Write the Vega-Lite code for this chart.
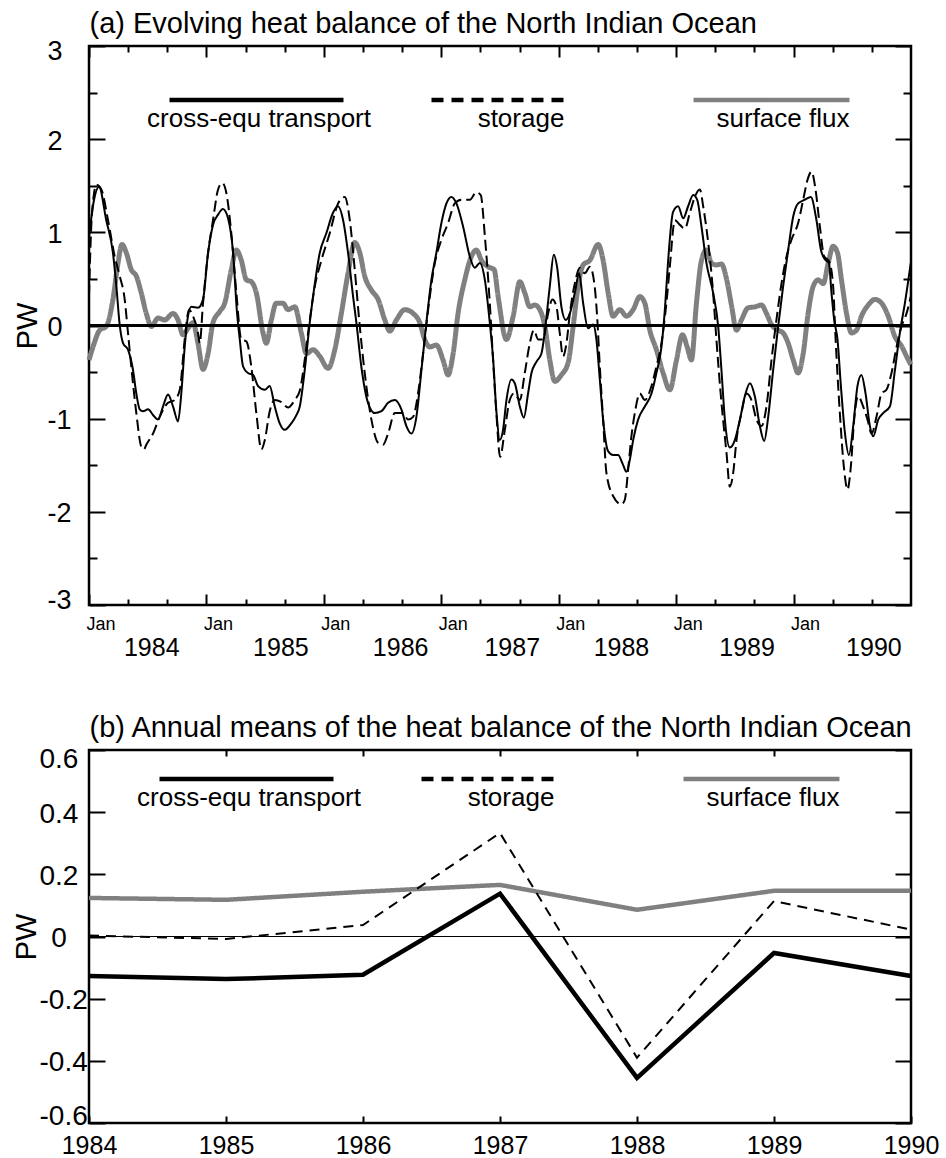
{
  "$schema": "https://vega.github.io/schema/vega-lite/v6.json",
  "padding": {"left": 10, "top": 8, "right": 0, "bottom": 0},
  "config": {
    "font": "Liberation Sans",
    "view": {"stroke": "black", "strokeWidth": 2.5},
    "axis": {"labelColor": "black", "titleColor": "black", "tickColor": "black", "tickWidth": 2, "grid": false, "domain": false, "labelFont": "Liberation Sans", "titleFont": "Liberation Sans", "titleFontWeight": "normal", "titleLimit": 2000},
    "style": {"guide-label": {"lineHeight": 38}}
  },
  "columns": 1,
  "align": "none",
  "spacing": 49,
  "resolve": {"scale": {"color": "independent", "strokeDash": "independent"}},
  "datasets": {
    "a": [
      {"t":1984.000,"k":"T","v":0.95},{"t":1984.043,"k":"T","v":1.35},{"t":1984.085,"k":"T","v":1.49},{"t":1984.147,"k":"T","v":1.13},{"t":1984.204,"k":"T","v":0.78},{"t":1984.233,"k":"T","v":0.42},{"t":1984.262,"k":"T","v":0.0},{"t":1984.290,"k":"T","v":-0.19},{"t":1984.332,"k":"T","v":-0.26},{"t":1984.375,"k":"T","v":-0.48},{"t":1984.403,"k":"T","v":-0.73},{"t":1984.432,"k":"T","v":-0.9},{"t":1984.460,"k":"T","v":-0.92},{"t":1984.503,"k":"T","v":-0.9},{"t":1984.545,"k":"T","v":-0.96},{"t":1984.588,"k":"T","v":-1.01},{"t":1984.630,"k":"T","v":-0.87},{"t":1984.673,"k":"T","v":-0.74},{"t":1984.716,"k":"T","v":-0.87},{"t":1984.758,"k":"T","v":-1.03},{"t":1984.786,"k":"T","v":-0.73},{"t":1984.815,"k":"T","v":-0.23},{"t":1984.843,"k":"T","v":0.1},{"t":1984.871,"k":"T","v":0.2},{"t":1984.928,"k":"T","v":0.19},{"t":1984.971,"k":"T","v":0.28},{"t":1985.014,"k":"T","v":0.78},{"t":1985.056,"k":"T","v":1.08},{"t":1985.099,"k":"T","v":1.19},{"t":1985.141,"k":"T","v":1.25},{"t":1985.184,"k":"T","v":1.15},{"t":1985.227,"k":"T","v":0.78},{"t":1985.261,"k":"T","v":0.13},{"t":1985.284,"k":"T","v":-0.15},{"t":1985.312,"k":"T","v":-0.44},{"t":1985.354,"k":"T","v":-0.51},{"t":1985.397,"k":"T","v":-0.53},{"t":1985.440,"k":"T","v":-0.65},{"t":1985.497,"k":"T","v":-0.69},{"t":1985.539,"k":"T","v":-0.65},{"t":1985.582,"k":"T","v":-0.87},{"t":1985.624,"k":"T","v":-1.05},{"t":1985.667,"k":"T","v":-1.12},{"t":1985.723,"k":"T","v":-1.05},{"t":1985.763,"k":"T","v":-0.97},{"t":1985.795,"k":"T","v":-0.87},{"t":1985.837,"k":"T","v":-0.48},{"t":1985.880,"k":"T","v":0.03},{"t":1985.923,"k":"T","v":0.45},{"t":1985.965,"k":"T","v":0.78},{"t":1986.021,"k":"T","v":0.99},{"t":1986.078,"k":"T","v":1.21},{"t":1986.121,"k":"T","v":1.28},{"t":1986.164,"k":"T","v":1.13},{"t":1986.206,"k":"T","v":0.78},{"t":1986.249,"k":"T","v":0.31},{"t":1986.277,"k":"T","v":0.03},{"t":1986.319,"k":"T","v":-0.44},{"t":1986.376,"k":"T","v":-0.83},{"t":1986.434,"k":"T","v":-0.94},{"t":1986.490,"k":"T","v":-0.92},{"t":1986.547,"k":"T","v":-0.83},{"t":1986.604,"k":"T","v":-0.8},{"t":1986.660,"k":"T","v":-0.9},{"t":1986.703,"k":"T","v":-1.08},{"t":1986.745,"k":"T","v":-1.16},{"t":1986.788,"k":"T","v":-0.98},{"t":1986.831,"k":"T","v":-0.48},{"t":1986.873,"k":"T","v":0.03},{"t":1986.916,"k":"T","v":0.49},{"t":1986.958,"k":"T","v":0.78},{"t":1987.001,"k":"T","v":1.1},{"t":1987.044,"k":"T","v":1.31},{"t":1987.086,"k":"T","v":1.38},{"t":1987.129,"k":"T","v":1.31},{"t":1987.186,"k":"T","v":1.06},{"t":1987.243,"k":"T","v":0.74},{"t":1987.285,"k":"T","v":0.62},{"t":1987.328,"k":"T","v":0.67},{"t":1987.371,"k":"T","v":0.49},{"t":1987.413,"k":"T","v":0.03},{"t":1987.441,"k":"T","v":-0.35},{"t":1987.471,"k":"T","v":-0.95},{"t":1987.498,"k":"T","v":-1.23},{"t":1987.526,"k":"T","v":-1.12},{"t":1987.555,"k":"T","v":-0.8},{"t":1987.597,"k":"T","v":-0.58},{"t":1987.626,"k":"T","v":-0.62},{"t":1987.669,"k":"T","v":-0.87},{"t":1987.703,"k":"T","v":-0.99},{"t":1987.739,"k":"T","v":-0.73},{"t":1987.768,"k":"T","v":-0.51},{"t":1987.810,"k":"T","v":-0.39},{"t":1987.853,"k":"T","v":-0.3},{"t":1987.890,"k":"T","v":0.03},{"t":1987.924,"k":"T","v":0.42},{"t":1987.958,"k":"T","v":0.76},{"t":1987.986,"k":"T","v":0.63},{"t":1988.023,"k":"T","v":0.2},{"t":1988.060,"k":"T","v":0.06},{"t":1988.095,"k":"T","v":0.13},{"t":1988.137,"k":"T","v":0.35},{"t":1988.174,"k":"T","v":0.56},{"t":1988.208,"k":"T","v":0.24},{"t":1988.250,"k":"T","v":-0.03},{"t":1988.293,"k":"T","v":0.01},{"t":1988.321,"k":"T","v":-0.15},{"t":1988.350,"k":"T","v":-0.58},{"t":1988.378,"k":"T","v":-1.01},{"t":1988.421,"k":"T","v":-1.35},{"t":1988.463,"k":"T","v":-1.39},{"t":1988.506,"k":"T","v":-1.39},{"t":1988.543,"k":"T","v":-1.48},{"t":1988.577,"k":"T","v":-1.57},{"t":1988.606,"k":"T","v":-1.44},{"t":1988.634,"k":"T","v":-1.23},{"t":1988.676,"k":"T","v":-1.01},{"t":1988.733,"k":"T","v":-0.87},{"t":1988.790,"k":"T","v":-0.73},{"t":1988.832,"k":"T","v":-0.51},{"t":1988.875,"k":"T","v":-0.23},{"t":1988.904,"k":"T","v":0.17},{"t":1988.932,"k":"T","v":0.7},{"t":1988.974,"k":"T","v":1.22},{"t":1989.017,"k":"T","v":1.28},{"t":1989.060,"k":"T","v":1.15},{"t":1989.102,"k":"T","v":1.28},{"t":1989.145,"k":"T","v":1.4},{"t":1989.179,"k":"T","v":1.35},{"t":1989.216,"k":"T","v":1.06},{"t":1989.258,"k":"T","v":0.67},{"t":1989.315,"k":"T","v":0.35},{"t":1989.358,"k":"T","v":-0.01},{"t":1989.386,"k":"T","v":-0.48},{"t":1989.415,"k":"T","v":-1.01},{"t":1989.457,"k":"T","v":-1.31},{"t":1989.500,"k":"T","v":-1.23},{"t":1989.543,"k":"T","v":-1.01},{"t":1989.585,"k":"T","v":-0.76},{"t":1989.628,"k":"T","v":-0.62},{"t":1989.670,"k":"T","v":-0.76},{"t":1989.713,"k":"T","v":-1.08},{"t":1989.750,"k":"T","v":-1.24},{"t":1989.784,"k":"T","v":-0.98},{"t":1989.826,"k":"T","v":-0.48},{"t":1989.869,"k":"T","v":-0.01},{"t":1989.911,"k":"T","v":0.42},{"t":1989.954,"k":"T","v":0.81},{"t":1989.997,"k":"T","v":1.17},{"t":1990.039,"k":"T","v":1.31},{"t":1990.096,"k":"T","v":1.35},{"t":1990.147,"k":"T","v":1.38},{"t":1990.195,"k":"T","v":1.13},{"t":1990.233,"k":"T","v":0.81},{"t":1990.267,"k":"T","v":0.71},{"t":1990.301,"k":"T","v":0.67},{"t":1990.323,"k":"T","v":0.35},{"t":1990.346,"k":"T","v":0.06},{"t":1990.374,"k":"T","v":-0.15},{"t":1990.403,"k":"T","v":-0.65},{"t":1990.437,"k":"T","v":-1.15},{"t":1990.471,"k":"T","v":-1.39},{"t":1990.508,"k":"T","v":-1.08},{"t":1990.544,"k":"T","v":-0.65},{"t":1990.578,"k":"T","v":-0.53},{"t":1990.613,"k":"T","v":-0.73},{"t":1990.650,"k":"T","v":-1.08},{"t":1990.678,"k":"T","v":-1.19},{"t":1990.721,"k":"T","v":-1.01},{"t":1990.763,"k":"T","v":-0.94},{"t":1990.820,"k":"T","v":-0.87},{"t":1990.863,"k":"T","v":-0.48},{"t":1990.905,"k":"T","v":-0.08},{"t":1990.948,"k":"T","v":0.24},{"t":1990.998,"k":"T","v":0.67},
      {"t":1984.000,"k":"S","v":0.32},{"t":1984.017,"k":"S","v":1.0},{"t":1984.043,"k":"S","v":1.42},{"t":1984.062,"k":"S","v":1.51},{"t":1984.105,"k":"S","v":1.46},{"t":1984.162,"k":"S","v":1.13},{"t":1984.219,"k":"S","v":0.74},{"t":1984.262,"k":"S","v":0.53},{"t":1984.304,"k":"S","v":0.28},{"t":1984.332,"k":"S","v":-0.08},{"t":1984.360,"k":"S","v":-0.44},{"t":1984.403,"k":"S","v":-0.94},{"t":1984.445,"k":"S","v":-1.3},{"t":1984.468,"k":"S","v":-1.33},{"t":1984.488,"k":"S","v":-1.28},{"t":1984.545,"k":"S","v":-1.16},{"t":1984.602,"k":"S","v":-0.98},{"t":1984.673,"k":"S","v":-0.83},{"t":1984.730,"k":"S","v":-0.8},{"t":1984.773,"k":"S","v":-0.69},{"t":1984.815,"k":"S","v":-0.15},{"t":1984.852,"k":"S","v":0.17},{"t":1984.886,"k":"S","v":0.1},{"t":1984.928,"k":"S","v":-0.08},{"t":1984.943,"k":"S","v":-0.19},{"t":1984.971,"k":"S","v":0.24},{"t":1985.014,"k":"S","v":0.78},{"t":1985.056,"k":"S","v":1.13},{"t":1985.099,"k":"S","v":1.46},{"t":1985.135,"k":"S","v":1.53},{"t":1985.170,"k":"S","v":1.42},{"t":1985.212,"k":"S","v":0.99},{"t":1985.255,"k":"S","v":0.35},{"t":1985.297,"k":"S","v":-0.15},{"t":1985.340,"k":"S","v":-0.17},{"t":1985.382,"k":"S","v":-0.44},{"t":1985.425,"k":"S","v":-0.94},{"t":1985.468,"k":"S","v":-1.33},{"t":1985.497,"k":"S","v":-1.23},{"t":1985.539,"k":"S","v":-0.92},{"t":1985.582,"k":"S","v":-0.8},{"t":1985.635,"k":"S","v":-0.82},{"t":1985.695,"k":"S","v":-0.88},{"t":1985.752,"k":"S","v":-0.8},{"t":1985.795,"k":"S","v":-0.7},{"t":1985.837,"k":"S","v":-0.37},{"t":1985.880,"k":"S","v":0.06},{"t":1985.923,"k":"S","v":0.42},{"t":1985.979,"k":"S","v":0.7},{"t":1986.050,"k":"S","v":0.99},{"t":1986.121,"k":"S","v":1.31},{"t":1986.178,"k":"S","v":1.38},{"t":1986.221,"k":"S","v":1.13},{"t":1986.263,"k":"S","v":0.6},{"t":1986.306,"k":"S","v":-0.01},{"t":1986.348,"k":"S","v":-0.51},{"t":1986.405,"k":"S","v":-1.01},{"t":1986.462,"k":"S","v":-1.26},{"t":1986.504,"k":"S","v":-1.28},{"t":1986.547,"k":"S","v":-1.16},{"t":1986.604,"k":"S","v":-0.94},{"t":1986.675,"k":"S","v":-0.94},{"t":1986.717,"k":"S","v":-1.01},{"t":1986.760,"k":"S","v":-0.98},{"t":1986.802,"k":"S","v":-0.73},{"t":1986.845,"k":"S","v":-0.3},{"t":1986.888,"k":"S","v":0.17},{"t":1986.945,"k":"S","v":0.67},{"t":1987.001,"k":"S","v":0.92},{"t":1987.058,"k":"S","v":1.1},{"t":1987.115,"k":"S","v":1.31},{"t":1987.171,"k":"S","v":1.35},{"t":1987.243,"k":"S","v":1.35},{"t":1987.299,"k":"S","v":1.43},{"t":1987.336,"k":"S","v":1.4},{"t":1987.371,"k":"S","v":0.96},{"t":1987.413,"k":"S","v":0.24},{"t":1987.441,"k":"S","v":-0.37},{"t":1987.469,"k":"S","v":-0.94},{"t":1987.501,"k":"S","v":-1.41},{"t":1987.541,"k":"S","v":-1.12},{"t":1987.583,"k":"S","v":-0.8},{"t":1987.618,"k":"S","v":-0.73},{"t":1987.669,"k":"S","v":-0.8},{"t":1987.711,"k":"S","v":-0.51},{"t":1987.754,"k":"S","v":-0.19},{"t":1987.788,"k":"S","v":-0.05},{"t":1987.825,"k":"S","v":-0.15},{"t":1987.867,"k":"S","v":-0.15},{"t":1987.910,"k":"S","v":0.13},{"t":1987.946,"k":"S","v":0.28},{"t":1987.981,"k":"S","v":0.2},{"t":1988.009,"k":"S","v":-0.08},{"t":1988.037,"k":"S","v":-0.33},{"t":1988.066,"k":"S","v":-0.19},{"t":1988.095,"k":"S","v":0.13},{"t":1988.137,"k":"S","v":0.45},{"t":1988.180,"k":"S","v":0.62},{"t":1988.222,"k":"S","v":0.56},{"t":1988.265,"k":"S","v":0.63},{"t":1988.299,"k":"S","v":0.49},{"t":1988.327,"k":"S","v":0.1},{"t":1988.350,"k":"S","v":-0.44},{"t":1988.378,"k":"S","v":-1.01},{"t":1988.406,"k":"S","v":-1.58},{"t":1988.463,"k":"S","v":-1.83},{"t":1988.534,"k":"S","v":-1.92},{"t":1988.563,"k":"S","v":-1.87},{"t":1988.591,"k":"S","v":-1.55},{"t":1988.619,"k":"S","v":-1.19},{"t":1988.648,"k":"S","v":-0.94},{"t":1988.691,"k":"S","v":-0.73},{"t":1988.733,"k":"S","v":-0.8},{"t":1988.790,"k":"S","v":-0.65},{"t":1988.832,"k":"S","v":-0.44},{"t":1988.875,"k":"S","v":-0.19},{"t":1988.917,"k":"S","v":0.24},{"t":1988.946,"k":"S","v":0.63},{"t":1988.989,"k":"S","v":1.13},{"t":1989.032,"k":"S","v":1.08},{"t":1989.074,"k":"S","v":1.04},{"t":1989.117,"k":"S","v":1.21},{"t":1989.159,"k":"S","v":1.38},{"t":1989.202,"k":"S","v":1.46},{"t":1989.230,"k":"S","v":1.28},{"t":1989.273,"k":"S","v":0.89},{"t":1989.315,"k":"S","v":0.35},{"t":1989.343,"k":"S","v":-0.15},{"t":1989.386,"k":"S","v":-0.83},{"t":1989.429,"k":"S","v":-1.37},{"t":1989.457,"k":"S","v":-1.73},{"t":1989.486,"k":"S","v":-1.58},{"t":1989.514,"k":"S","v":-1.23},{"t":1989.556,"k":"S","v":-0.94},{"t":1989.599,"k":"S","v":-0.73},{"t":1989.641,"k":"S","v":-0.8},{"t":1989.684,"k":"S","v":-1.01},{"t":1989.727,"k":"S","v":-1.08},{"t":1989.769,"k":"S","v":-0.87},{"t":1989.812,"k":"S","v":-0.37},{"t":1989.854,"k":"S","v":0.06},{"t":1989.897,"k":"S","v":0.45},{"t":1989.940,"k":"S","v":0.74},{"t":1989.982,"k":"S","v":0.92},{"t":1990.039,"k":"S","v":1.1},{"t":1990.082,"k":"S","v":1.35},{"t":1990.118,"k":"S","v":1.56},{"t":1990.153,"k":"S","v":1.65},{"t":1990.187,"k":"S","v":1.46},{"t":1990.224,"k":"S","v":1.06},{"t":1990.261,"k":"S","v":0.74},{"t":1990.303,"k":"S","v":0.69},{"t":1990.337,"k":"S","v":0.42},{"t":1990.357,"k":"S","v":-0.12},{"t":1990.394,"k":"S","v":-0.94},{"t":1990.431,"k":"S","v":-1.55},{"t":1990.459,"k":"S","v":-1.76},{"t":1990.488,"k":"S","v":-1.51},{"t":1990.516,"k":"S","v":-1.01},{"t":1990.550,"k":"S","v":-0.76},{"t":1990.593,"k":"S","v":-0.87},{"t":1990.630,"k":"S","v":-1.01},{"t":1990.664,"k":"S","v":-1.16},{"t":1990.706,"k":"S","v":-0.98},{"t":1990.749,"k":"S","v":-0.73},{"t":1990.791,"k":"S","v":-0.69},{"t":1990.834,"k":"S","v":-0.51},{"t":1990.877,"k":"S","v":-0.23},{"t":1990.919,"k":"S","v":-0.01},{"t":1990.962,"k":"S","v":0.13},{"t":1990.998,"k":"S","v":0.31},
      {"t":1984.000,"k":"F","v":-0.37},{"t":1984.034,"k":"F","v":-0.23},{"t":1984.091,"k":"F","v":-0.05},{"t":1984.147,"k":"F","v":-0.01},{"t":1984.204,"k":"F","v":0.28},{"t":1984.247,"k":"F","v":0.67},{"t":1984.281,"k":"F","v":0.87},{"t":1984.318,"k":"F","v":0.78},{"t":1984.360,"k":"F","v":0.6},{"t":1984.403,"k":"F","v":0.53},{"t":1984.445,"k":"F","v":0.35},{"t":1984.488,"k":"F","v":0.13},{"t":1984.531,"k":"F","v":-0.01},{"t":1984.588,"k":"F","v":0.08},{"t":1984.645,"k":"F","v":0.06},{"t":1984.716,"k":"F","v":0.13},{"t":1984.758,"k":"F","v":0.06},{"t":1984.801,"k":"F","v":-0.1},{"t":1984.843,"k":"F","v":-0.03},{"t":1984.886,"k":"F","v":0.03},{"t":1984.928,"k":"F","v":-0.19},{"t":1984.971,"k":"F","v":-0.47},{"t":1985.014,"k":"F","v":-0.3},{"t":1985.056,"k":"F","v":0.03},{"t":1985.113,"k":"F","v":0.15},{"t":1985.156,"k":"F","v":0.24},{"t":1985.212,"k":"F","v":0.6},{"t":1985.255,"k":"F","v":0.81},{"t":1985.297,"k":"F","v":0.7},{"t":1985.340,"k":"F","v":0.49},{"t":1985.382,"k":"F","v":0.47},{"t":1985.425,"k":"F","v":0.35},{"t":1985.482,"k":"F","v":-0.08},{"t":1985.510,"k":"F","v":-0.19},{"t":1985.553,"k":"F","v":0.06},{"t":1985.595,"k":"F","v":0.24},{"t":1985.652,"k":"F","v":0.24},{"t":1985.695,"k":"F","v":0.17},{"t":1985.752,"k":"F","v":0.2},{"t":1985.808,"k":"F","v":-0.08},{"t":1985.851,"k":"F","v":-0.3},{"t":1985.908,"k":"F","v":-0.26},{"t":1985.965,"k":"F","v":-0.33},{"t":1986.036,"k":"F","v":-0.46},{"t":1986.093,"k":"F","v":-0.26},{"t":1986.149,"k":"F","v":0.13},{"t":1986.206,"k":"F","v":0.56},{"t":1986.263,"k":"F","v":0.89},{"t":1986.306,"k":"F","v":0.78},{"t":1986.348,"k":"F","v":0.53},{"t":1986.405,"k":"F","v":0.38},{"t":1986.462,"k":"F","v":0.28},{"t":1986.519,"k":"F","v":0.06},{"t":1986.561,"k":"F","v":-0.06},{"t":1986.618,"k":"F","v":0.06},{"t":1986.689,"k":"F","v":0.17},{"t":1986.760,"k":"F","v":0.13},{"t":1986.817,"k":"F","v":0.03},{"t":1986.859,"k":"F","v":-0.15},{"t":1986.902,"k":"F","v":-0.23},{"t":1986.958,"k":"F","v":-0.21},{"t":1987.015,"k":"F","v":-0.37},{"t":1987.058,"k":"F","v":-0.53},{"t":1987.101,"k":"F","v":-0.3},{"t":1987.143,"k":"F","v":0.13},{"t":1987.200,"k":"F","v":0.49},{"t":1987.256,"k":"F","v":0.74},{"t":1987.299,"k":"F","v":0.81},{"t":1987.342,"k":"F","v":0.7},{"t":1987.399,"k":"F","v":0.63},{"t":1987.450,"k":"F","v":0.6},{"t":1987.484,"k":"F","v":0.31},{"t":1987.555,"k":"F","v":-0.15},{"t":1987.612,"k":"F","v":0.1},{"t":1987.669,"k":"F","v":0.47},{"t":1987.711,"k":"F","v":0.35},{"t":1987.754,"k":"F","v":0.2},{"t":1987.796,"k":"F","v":0.22},{"t":1987.839,"k":"F","v":0.17},{"t":1987.882,"k":"F","v":-0.01},{"t":1987.924,"k":"F","v":-0.37},{"t":1987.967,"k":"F","v":-0.6},{"t":1988.023,"k":"F","v":-0.53},{"t":1988.080,"k":"F","v":-0.4},{"t":1988.123,"k":"F","v":-0.01},{"t":1988.165,"k":"F","v":0.42},{"t":1988.208,"k":"F","v":0.65},{"t":1988.265,"k":"F","v":0.7},{"t":1988.336,"k":"F","v":0.87},{"t":1988.378,"k":"F","v":0.7},{"t":1988.421,"k":"F","v":0.35},{"t":1988.463,"k":"F","v":0.1},{"t":1988.520,"k":"F","v":0.17},{"t":1988.577,"k":"F","v":0.1},{"t":1988.634,"k":"F","v":0.17},{"t":1988.691,"k":"F","v":0.31},{"t":1988.733,"k":"F","v":0.24},{"t":1988.776,"k":"F","v":-0.05},{"t":1988.832,"k":"F","v":-0.26},{"t":1988.889,"k":"F","v":-0.51},{"t":1988.946,"k":"F","v":-0.69},{"t":1989.003,"k":"F","v":-0.37},{"t":1989.054,"k":"F","v":-0.1},{"t":1989.094,"k":"F","v":-0.23},{"t":1989.130,"k":"F","v":-0.37},{"t":1989.173,"k":"F","v":0.24},{"t":1989.216,"k":"F","v":0.7},{"t":1989.258,"k":"F","v":0.81},{"t":1989.301,"k":"F","v":0.67},{"t":1989.343,"k":"F","v":0.65},{"t":1989.386,"k":"F","v":0.66},{"t":1989.429,"k":"F","v":0.5},{"t":1989.471,"k":"F","v":0.22},{"t":1989.514,"k":"F","v":-0.05},{"t":1989.556,"k":"F","v":0.06},{"t":1989.613,"k":"F","v":0.19},{"t":1989.670,"k":"F","v":0.2},{"t":1989.727,"k":"F","v":0.22},{"t":1989.769,"k":"F","v":0.13},{"t":1989.812,"k":"F","v":0.01},{"t":1989.869,"k":"F","v":-0.05},{"t":1989.911,"k":"F","v":-0.08},{"t":1989.954,"k":"F","v":-0.19},{"t":1989.997,"k":"F","v":-0.37},{"t":1990.039,"k":"F","v":-0.51},{"t":1990.082,"k":"F","v":-0.3},{"t":1990.124,"k":"F","v":0.13},{"t":1990.167,"k":"F","v":0.42},{"t":1990.210,"k":"F","v":0.49},{"t":1990.252,"k":"F","v":0.45},{"t":1990.295,"k":"F","v":0.67},{"t":1990.337,"k":"F","v":0.85},{"t":1990.374,"k":"F","v":0.78},{"t":1990.408,"k":"F","v":0.49},{"t":1990.451,"k":"F","v":0.13},{"t":1990.493,"k":"F","v":-0.08},{"t":1990.536,"k":"F","v":-0.05},{"t":1990.578,"k":"F","v":0.1},{"t":1990.636,"k":"F","v":0.22},{"t":1990.693,"k":"F","v":0.28},{"t":1990.749,"k":"F","v":0.24},{"t":1990.806,"k":"F","v":0.1},{"t":1990.863,"k":"F","v":-0.12},{"t":1990.919,"k":"F","v":-0.22},{"t":1990.962,"k":"F","v":-0.33},{"t":1990.998,"k":"F","v":-0.42}
    ],
    "b": [
      {"yr":1984,"k":"T","v":-0.127},{"yr":1985,"k":"T","v":-0.137},{"yr":1986,"k":"T","v":-0.123},{"yr":1987,"k":"T","v":0.138},{"yr":1988,"k":"T","v":-0.455},{"yr":1989,"k":"T","v":-0.053},{"yr":1990,"k":"T","v":-0.127},
      {"yr":1984,"k":"S","v":0.003},{"yr":1985,"k":"S","v":-0.008},{"yr":1986,"k":"S","v":0.037},{"yr":1987,"k":"S","v":0.333},{"yr":1988,"k":"S","v":-0.39},{"yr":1989,"k":"S","v":0.114},{"yr":1990,"k":"S","v":0.022},
      {"yr":1984,"k":"F","v":0.124},{"yr":1985,"k":"F","v":0.118},{"yr":1986,"k":"F","v":0.144},{"yr":1987,"k":"F","v":0.166},{"yr":1988,"k":"F","v":0.086},{"yr":1989,"k":"F","v":0.147},{"yr":1990,"k":"F","v":0.147}
    ]
  },
  "concat": [
    {
      "width": 822,
      "height": 559,
      "data": {"name": "a"},
      "layer": [
        {
          "transform": [{"filter": "datum.k === 'F'"}],
          "mark": {"type": "line", "strokeWidth": 5, "interpolate": "monotone", "strokeJoin": "round"},
          "encoding": {
            "x": {"field": "t", "type": "quantitative", "scale": {"domain": [1984, 1991], "nice": false, "zero": false},
              "axis": {
                "orient": "bottom", "title": null,
                "values": [1984,1984.3333,1984.6667,1985,1985.3333,1985.6667,1986,1986.3333,1986.6667,1987,1987.3333,1987.6667,1988,1988.3333,1988.6667,1989,1989.3333,1989.6667,1990,1990.3333,1990.6667,1984.53,1985.63,1986.65,1987.6,1988.53,1989.6,1990.68],
                "tickSize": {"condition": [{"test": "abs(datum.value*3-round(datum.value*3))>0.01", "value": 0}, {"test": "datum.value % 1 === 0", "value": -11}], "value": -6},
                "tickOpacity": {"condition": {"test": "abs(datum.value*3-round(datum.value*3))>0.01", "value": 0}, "value": 1},
                "labelExpr": "abs(datum.value*3-round(datum.value*3))>0.01 ? '' + floor(datum.value) : (datum.value % 1 === 0 ? 'Jan' : '')",
                "labelFontSize": {"condition": {"test": "abs(datum.value*3-round(datum.value*3))>0.01", "value": 25}, "value": 18},
                "labelAlign": {"condition": {"test": "abs(datum.value*3-round(datum.value*3))>0.01", "value": "center"}, "value": "left"},
                "labelPadding": {"condition": {"test": "abs(datum.value*3-round(datum.value*3))>0.01", "value": 30}, "value": 21.6},
                "labelOffset": {"condition": {"test": "abs(datum.value*3-round(datum.value*3))>0.01", "value": 0}, "value": -3},
                "labelBaseline": "top", "labelFlush": false, "labelOverlap": false, "labelBound": false
              }},
            "y": {"field": "v", "type": "quantitative", "scale": {"domain": [-3, 3], "nice": false, "zero": false},
              "axis": {
                "orient": "left", "title": "PW", "titleFontSize": 29, "titleAngle": 270, "titleAlign": "center", "titleBaseline": "alphabetic", "titleX": -53, "titleY": 279.5,
                "values": [-3,-2.5,-2,-1.5,-1,-0.5,0,0.5,1,1.5,2,2.5,3],
                "tickSize": {"condition": {"test": "datum.value % 1 === 0", "value": -16}, "value": -8},
                "labelExpr": "datum.value % 1 === 0 ? '' + datum.value : ''",
                "labelAlign": "left", "labelBaseline": "middle", "labelPadding": 58, "labelFontSize": 27,
                "labelOffset": {"condition": [{"test": "datum.value === 3", "value": 5}, {"test": "datum.value === -3", "value": -5}], "value": 2},
                "labelFlush": false, "labelOverlap": false
              }},
            "color": {"field": "k", "type": "nominal", "scale": {"domain": ["T", "S", "F"], "range": ["black", "black", "#808080"]},
              "legend": {"orient": "none", "legendX": 78, "legendY": 49, "direction": "horizontal", "columns": 3, "title": null, "symbolType": "stroke", "symbolSize": 30276, "symbolStrokeWidth": 4.5, "labelExpr": "datum.value === 'T' ? 'cross-equ transport' : (datum.value === 'S' ? 'storage\u00a0\u00a0\u00a0\u00a0' : '\u00a0\u00a0surface flux')", "labelFontSize": 26, "labelColor": "black", "labelAlign": "center", "labelBaseline": "line-top", "labelOffset": -87, "clipHeight": 10, "columnPadding": 58, "gridAlign": "all", "padding": 0, "labelLimit": 400}},
            "strokeDash": {"field": "k", "type": "nominal", "scale": {"domain": ["T", "S", "F"], "range": [[1, 0], [12, 8], [1, 0]]},
              "legend": {"orient": "none", "legendX": 78, "legendY": 49, "direction": "horizontal", "columns": 3, "title": null, "symbolType": "stroke", "symbolSize": 30276, "symbolStrokeWidth": 4.5, "labelExpr": "datum.value === 'T' ? 'cross-equ transport' : (datum.value === 'S' ? 'storage\u00a0\u00a0\u00a0\u00a0' : '\u00a0\u00a0surface flux')", "labelFontSize": 26, "labelColor": "black", "labelAlign": "center", "labelBaseline": "line-top", "labelOffset": -87, "clipHeight": 10, "columnPadding": 58, "gridAlign": "all", "padding": 0, "labelLimit": 400}}
          }
        },
        {
          "mark": {"type": "rule", "color": "black", "strokeWidth": 2},
          "encoding": {"y": {"datum": 0, "type": "quantitative", "scale": {"domain": [-3, 3], "nice": false, "zero": false}, "axis": null}}
        },
        {
          "transform": [{"filter": "datum.k === 'S'"}],
          "mark": {"type": "line", "color": "black", "strokeWidth": 2, "strokeDash": [11, 5], "interpolate": "monotone"},
          "encoding": {
            "x": {"field": "t", "type": "quantitative", "scale": {"domain": [1984, 1991], "nice": false, "zero": false},
              "axis": {"orient": "top", "labels": false,
                "title": "(a) Evolving heat balance of the North Indian Ocean", "titleFontSize": 29, "titleAngle": 0, "titleAlign": "left", "titleBaseline": "alphabetic", "titleX": 0, "titleY": -13.5,
                "values": [1984,1984.3333,1984.6667,1985,1985.3333,1985.6667,1986,1986.3333,1986.6667,1987,1987.3333,1987.6667,1988,1988.3333,1988.6667,1989,1989.3333,1989.6667,1990,1990.3333,1990.6667],
                "tickSize": {"condition": {"test": "datum.value % 1 === 0", "value": -11}, "value": -6}}},
            "y": {"field": "v", "type": "quantitative", "scale": {"domain": [-3, 3], "nice": false, "zero": false},
              "axis": {"orient": "right", "title": null, "labels": false,
                "values": [-3,-2.5,-2,-1.5,-1,-0.5,0,0.5,1,1.5,2,2.5,3],
                "tickSize": {"condition": {"test": "datum.value % 1 === 0", "value": -16}, "value": -8}}}
          }
        },
        {
          "transform": [{"filter": "datum.k === 'T'"}],
          "mark": {"type": "line", "color": "black", "strokeWidth": 2, "interpolate": "monotone"},
          "encoding": {
            "x": {"field": "t", "type": "quantitative", "scale": {"domain": [1984, 1991], "nice": false, "zero": false}, "axis": null},
            "y": {"field": "v", "type": "quantitative", "scale": {"domain": [-3, 3], "nice": false, "zero": false}, "axis": null}
          }
        }
      ],
      "resolve": {"axis": {"x": "independent", "y": "independent"}}
    },
    {
      "width": 822,
      "height": 373,
      "data": {"name": "b"},
      "layer": [
        {
          "transform": [{"filter": "datum.k === 'F'"}],
          "mark": {"type": "line", "strokeWidth": 4.5},
          "encoding": {
            "x": {"field": "yr", "type": "quantitative", "scale": {"domain": [1984, 1990], "nice": false, "zero": false},
              "axis": {"orient": "bottom", "title": null, "values": [1984,1985,1986,1987,1988,1989,1990], "format": "d",
                "tickSize": -7, "labelPadding": 17.25, "labelFontSize": 25, "labelBaseline": "top", "labelFlush": false, "labelOverlap": false}},
            "y": {"field": "v", "type": "quantitative", "scale": {"domain": [-0.6, 0.6], "nice": false, "zero": false},
              "axis": {"orient": "left", "title": "PW", "titleFontSize": 29, "titleAngle": 270, "titleAlign": "center", "titleBaseline": "alphabetic", "titleX": -54, "titleY": 186.5,
                "values": [-0.6,-0.4,-0.2,0,0.2,0.4,0.6], "tickSize": -16,
                "labelExpr": "'' + datum.value",
                "labelAlign": {"condition": {"test": "datum.value === 0", "value": "center"}, "value": "left"},
                "labelPadding": {"condition": {"test": "datum.value === 0", "value": 46.5}, "value": 66},
                "labelBaseline": "middle", "labelFontSize": 28,
                "labelOffset": {"condition": [{"test": "datum.value === 0.6", "value": 9.5}, {"test": "datum.value === -0.6", "value": -6.5}], "value": 2},
                "labelFlush": false, "labelOverlap": false}},
            "color": {"field": "k", "type": "nominal", "scale": {"domain": ["T", "S", "F"], "range": ["black", "black", "#808080"]},
              "legend": {"orient": "none", "legendX": 68, "legendY": 24, "direction": "horizontal", "columns": 3, "title": null, "symbolType": "stroke", "symbolSize": 30276, "symbolStrokeWidth": 4.5, "labelExpr": "datum.value === 'T' ? 'cross-equ transport' : (datum.value === 'S' ? 'storage\u00a0\u00a0\u00a0\u00a0' : '\u00a0\u00a0surface flux')", "labelFontSize": 26, "labelColor": "black", "labelAlign": "center", "labelBaseline": "line-top", "labelOffset": -87, "clipHeight": 10, "columnPadding": 58, "gridAlign": "all", "padding": 0, "labelLimit": 400}},
            "strokeDash": {"field": "k", "type": "nominal", "scale": {"domain": ["T", "S", "F"], "range": [[1, 0], [12, 8], [1, 0]]},
              "legend": {"orient": "none", "legendX": 68, "legendY": 24, "direction": "horizontal", "columns": 3, "title": null, "symbolType": "stroke", "symbolSize": 30276, "symbolStrokeWidth": 4.5, "labelExpr": "datum.value === 'T' ? 'cross-equ transport' : (datum.value === 'S' ? 'storage\u00a0\u00a0\u00a0\u00a0' : '\u00a0\u00a0surface flux')", "labelFontSize": 26, "labelColor": "black", "labelAlign": "center", "labelBaseline": "line-top", "labelOffset": -87, "clipHeight": 10, "columnPadding": 58, "gridAlign": "all", "padding": 0, "labelLimit": 400}}
          }
        },
        {
          "mark": {"type": "rule", "color": "black", "strokeWidth": 1},
          "encoding": {"y": {"datum": 0, "type": "quantitative", "scale": {"domain": [-0.6, 0.6], "nice": false, "zero": false}, "axis": null}}
        },
        {
          "transform": [{"filter": "datum.k === 'S'"}],
          "mark": {"type": "line", "color": "black", "strokeWidth": 2, "strokeDash": [10, 7]},
          "encoding": {
            "x": {"field": "yr", "type": "quantitative", "scale": {"domain": [1984, 1990], "nice": false, "zero": false},
              "axis": {"orient": "top", "labels": false, "values": [1985,1986,1987,1988,1989], "tickSize": -6,
                "title": "(b) Annual means of the heat balance of the North Indian Ocean", "titleFontSize": 29, "titleAngle": 0, "titleAlign": "left", "titleBaseline": "alphabetic", "titleX": 0, "titleY": -14}},
            "y": {"field": "v", "type": "quantitative", "scale": {"domain": [-0.6, 0.6], "nice": false, "zero": false},
              "axis": {"orient": "right", "title": null, "labels": false, "values": [-0.6,-0.4,-0.2,0,0.2,0.4,0.6], "tickSize": -16}}
          }
        },
        {
          "transform": [{"filter": "datum.k === 'T'"}],
          "mark": {"type": "line", "color": "black", "strokeWidth": 4.5},
          "encoding": {
            "x": {"field": "yr", "type": "quantitative", "scale": {"domain": [1984, 1990], "nice": false, "zero": false}, "axis": null},
            "y": {"field": "v", "type": "quantitative", "scale": {"domain": [-0.6, 0.6], "nice": false, "zero": false}, "axis": null}
          }
        }
      ],
      "resolve": {"axis": {"x": "independent", "y": "independent"}}
    }
  ]
}
